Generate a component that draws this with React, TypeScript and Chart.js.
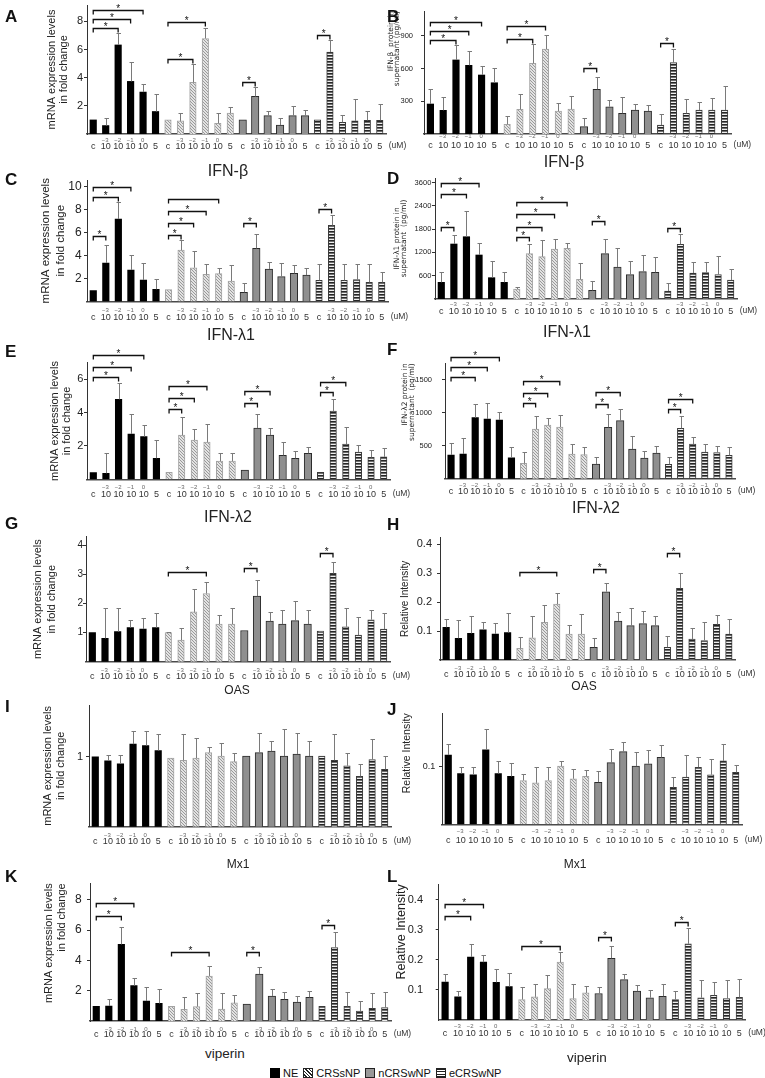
import React, { useEffect, useRef } from 'react';
import { Chart, registerables } from 'chart.js';

Chart.register(...registerables);

const SANS = "'Liberation Sans', Arial, Helvetica, sans-serif";
const WIDE = "'DejaVu Sans', 'Liberation Sans', sans-serif";

// ---------- categories and tick labels ----------
const GROUPS = ['NE', 'CRSsNP', 'nCRSwNP', 'eCRSwNP'];
const DOSES = ['c', '10^-3', '10^-2', '10^-1', '10^0', '5'];
const DOSE_MAIN = ['c', '10', '10', '10', '10', '5'];
const DOSE_EXP = ['', '−3', '−2', '−1', '0', ''];
const DOSE_UNIT = '(uM)';
const CATEGORIES = GROUPS.flatMap((g) => DOSES.map((d) => `${g} ${d}`));
const D_TICKS = ['600', '1200', '1800', '2400', '3600'];

const MRNA_TITLE = ['mRNA expression levels', 'in fold change'];
const RI_TITLE = ['Relative Intensity'];
const B_TITLE = ['IFN-β  protein in', 'supernatant (pg/ml)'];
const D_TITLE = ['IFN-λ1 protein in', 'supernatant  (pg/ml)'];
const F_TITLE = ['IFN-λ2 protein in', 'supernatant  (pg/ml)'];

// ---------- values (mean, mean+SD) ; 6 per group: NE, CRSsNP, nCRSwNP, eCRSwNP ----------
const A_MEAN = [1.0, 0.6, 6.33, 3.74, 2.98, 1.6, 1.0, 0.93, 3.67, 6.79, 0.76, 1.48, 1.0, 2.67, 1.31, 0.64, 1.31, 1.31, 1.0, 5.83, 0.83, 0.93, 0.97, 0.97];
const A_ERR = [null, 1.12, 7.2, 5.1, 3.57, 2.84, null, 1.48, 4.98, 7.55, 1.48, 1.9, null, 3.33, 1.67, 1.12, 2.0, 1.71, null, 6.67, 1.36, 2.48, 1.67, 2.14];
const A_SIG = [[0, 2, 7.57, 1], [0, 3, 8.21, 1], [0, 4, 8.79, 1], [6, 8, 5.36, 1], [6, 9, 7.98, 1], [12, 13, 3.69, 1], [18, 19, 7.07, 1]];

const B_MEAN = [275, 217, 679, 630, 541, 470, 89, 226, 648, 779, 211, 229, 67, 410, 250, 190, 220, 211, 82, 654, 190, 220, 220, 220];
const B_ERR = [410, 336, 813, 764, 626, 602, 168, 367, 823, 911, 287, 346, 144, 520, 312, 342, 275, 263, 183, 779, 321, 296, 327, 440];
const B_SIG = [[0, 2, 862, 1], [0, 3, 944, 1], [0, 4, 1024, 1], [6, 8, 871, 1], [6, 9, 990, 1], [12, 13, 608, 1], [18, 19, 837, 1]];

const C_MEAN = [0.95, 3.35, 7.17, 2.74, 1.87, 1.06, 1.03, 4.48, 2.94, 2.36, 2.42, 1.78, 0.8, 4.62, 2.83, 2.16, 2.45, 2.3, 1.84, 6.62, 1.84, 1.9, 1.67, 1.67];
const C_ERR = [null, 4.88, 8.62, 4.04, 3.38, 1.96, null, 5.35, 4.39, 3.23, 2.88, 3.17, 1.58, 5.84, 3.46, 3.32, 3.17, 2.94, 3.23, 7.52, 3.23, 3.26, 3.23, 2.6];
const C_SIG = [[0, 1, 5.7, 1], [0, 2, 9.12, 1], [0, 3, 9.93, 1], [6, 7, 5.78, 1], [6, 8, 6.8, 1], [6, 9, 7.87, 1], [6, 10, 8.88, 0], [12, 13, 6.86, 1], [18, 19, 8.04, 1]];

const D_MEAN = [429, 1416, 1604, 1133, 549, 429, 257, 1167, 1090, 1287, 1304, 506, 223, 1167, 824, 626, 704, 686, 206, 1407, 669, 678, 626, 489];
const D_ERR = [686, 1647, 2265, 1433, 987, 704, 309, 1424, 1510, 1544, 1433, 918, 463, 1536, 1321, 987, 1133, 1073, 403, 1665, 944, 961, 1107, 764];
const D_SIG = [[0, 1, 1845, 1], [0, 2, 2694, 1], [0, 3, 2977, 1], [6, 7, 1587, 1], [6, 8, 1862, 1], [6, 9, 2188, 1], [6, 10, 2488, 1], [12, 13, 2008, 1], [18, 19, 1836, 1]];

const E_MEAN = [0.4, 0.36, 4.8, 2.72, 2.56, 1.26, 0.42, 2.66, 2.36, 2.24, 1.1, 1.1, 0.56, 3.08, 2.66, 1.44, 1.26, 1.56, 0.42, 4.1, 2.12, 1.64, 1.32, 1.35];
const E_ERR = [null, 1.6, 5.76, 3.92, 3.28, 2.36, null, 3.76, 3.02, 3.32, 1.56, 1.6, null, 3.9, 3.1, 2.22, 1.7, 1.96, null, 4.8, 3.16, 2.06, 1.76, 1.86];
const E_SIG = [[0, 2, 6.12, 1], [0, 3, 6.76, 1], [0, 4, 7.46, 1], [6, 7, 4.2, 1], [6, 8, 4.86, 1], [6, 9, 5.6, 1], [12, 13, 4.56, 1], [12, 14, 5.3, 1], [18, 19, 5.26, 1], [18, 20, 5.86, 1]];

const F_MEAN = [359, 374, 924, 904, 889, 318, 232, 752, 813, 783, 374, 364, 222, 778, 879, 449, 313, 389, 217, 763, 525, 404, 394, 354];
const F_ERR = [535, 611, 1126, 1141, 1015, 475, 409, 949, 914, 965, 525, 485, 323, 975, 1050, 646, 419, 495, 323, 949, 636, 520, 495, 475];
const F_SIG = [[0, 2, 1535, 1], [0, 3, 1687, 1], [0, 4, 1848, 1], [6, 7, 1141, 1], [6, 8, 1303, 1], [6, 9, 1480, 1], [12, 13, 1131, 1], [12, 14, 1318, 1], [18, 19, 1050, 1], [18, 20, 1202, 1]];

const G_MEAN = [1.0, 0.8, 1.03, 1.17, 1.12, 1.17, 1.0, 0.74, 1.71, 2.34, 1.29, 1.29, 1.07, 2.25, 1.39, 1.29, 1.41, 1.29, 1.05, 3.03, 1.2, 0.91, 1.44, 1.12];
const G_ERR = [null, 1.85, 1.83, 1.43, 1.51, 1.66, 1.03, 1.14, 2.51, 2.74, 1.6, 1.83, null, 2.82, 1.69, 1.79, 2.09, 1.79, 1.07, 3.41, 1.83, 1.54, 1.77, 1.66];
const G_SIG = [[6, 9, 3.09, 1], [12, 13, 3.23, 1], [18, 19, 3.74, 1]];

const H_MEAN = [0.113, 0.075, 0.092, 0.104, 0.09, 0.095, 0.04, 0.077, 0.13, 0.193, 0.09, 0.09, 0.044, 0.236, 0.135, 0.119, 0.126, 0.119, 0.044, 0.248, 0.072, 0.067, 0.123, 0.09];
const H_ERR = [0.141, 0.138, 0.153, 0.13, 0.129, 0.161, 0.081, 0.153, 0.19, 0.231, 0.121, 0.158, 0.077, 0.268, 0.165, 0.181, 0.17, 0.152, 0.084, 0.302, 0.112, 0.13, 0.156, 0.141];
const H_SIG = [[6, 9, 0.306, 1], [12, 13, 0.315, 1], [18, 19, 0.369, 1]];

const I_MEAN = [1.0, 0.94, 0.9, 1.18, 1.16, 1.09, 0.98, 0.95, 0.98, 1.06, 1.01, 0.93, 1.01, 1.06, 1.08, 1.01, 1.04, 1.01, 1.01, 0.95, 0.87, 0.72, 0.96, 0.82];
const I_ERR = [null, 1.03, 1.03, 1.37, 1.37, 1.32, null, 1.32, 1.27, 1.14, 1.19, 1.06, null, 1.34, 1.23, 1.39, 1.34, 1.22, null, 1.33, 1.05, 0.89, 1.26, 1.01];
const I_SIG: number[][] = [];

const J_MEAN = [0.12, 0.088, 0.086, 0.129, 0.088, 0.083, 0.076, 0.072, 0.076, 0.101, 0.079, 0.083, 0.073, 0.107, 0.126, 0.101, 0.105, 0.116, 0.064, 0.082, 0.099, 0.086, 0.11, 0.09];
const J_ERR = [0.14, 0.1, 0.1, 0.166, 0.109, 0.107, 0.088, 0.099, 0.099, 0.109, 0.096, 0.095, 0.092, 0.131, 0.142, 0.125, 0.129, 0.138, 0.082, 0.12, 0.117, 0.113, 0.139, 0.103];
const J_SIG: number[][] = [];

const K_MEAN = [0.97, 0.99, 5.05, 2.33, 1.32, 1.16, 0.97, 0.77, 0.95, 2.97, 0.79, 1.19, 1.12, 3.1, 1.65, 1.43, 1.25, 1.56, 0.97, 4.84, 0.97, 0.66, 0.84, 0.88];
const K_ERR = [null, 1.43, 6.2, 2.81, 2.26, 2.11, null, 1.58, 1.82, 3.63, 1.82, 1.71, null, 3.54, 2.09, 1.93, 1.67, 1.98, null, 5.85, 1.93, 1.32, 1.87, 1.93];
const K_SIG = [[0, 2, 6.95, 1], [0, 3, 7.8, 1], [6, 9, 4.53, 1], [12, 13, 4.53, 1], [18, 19, 6.33, 1]];

const L_MEAN = [0.126, 0.077, 0.209, 0.192, 0.125, 0.111, 0.068, 0.077, 0.104, 0.192, 0.071, 0.09, 0.088, 0.205, 0.134, 0.096, 0.074, 0.079, 0.068, 0.253, 0.074, 0.082, 0.071, 0.075];
const L_ERR = [0.152, 0.097, 0.251, 0.216, 0.17, 0.157, 0.11, 0.121, 0.148, 0.227, 0.121, 0.113, 0.109, 0.245, 0.154, 0.115, 0.099, 0.119, 0.097, 0.305, 0.134, 0.126, 0.134, 0.137];
const L_SIG = [[0, 2, 0.346, 1], [0, 3, 0.385, 1], [6, 9, 0.247, 1], [12, 13, 0.275, 1], [18, 19, 0.324, 1]];

// ---------- panel layout (positions / styles only) ----------
const PANELS: any[] = [
  { letter: 'A', lx: 5, ly: 8, gene: 'IFN-β', gx: 228, gy: 171, gs: 16, mean: A_MEAN, err: A_ERR, sig: A_SIG,
    box: [0, -5, 420, 165], plot: [87, 5, 386, 134], yMax: 9.17, yStep: 2, dec: 0, tf: 11, tp: 1,
    title: MRNA_TITLE, tfam: SANS, ts: 11, tlh: 1.1, tx: 52, talign: 'center', expDy: 6.7, mainDy: 12.7 },
  { letter: 'B', lx: 387, ly: 8, gene: 'IFN-β', gx: 564, gy: 162, gs: 16, mean: B_MEAN, err: B_ERR, sig: B_SIG,
    box: [382, -5, 383, 165], plot: [424, 11, 731, 134], yMax: 1128, yStep: 300, dec: 0, tf: 7.5, tp: 8,
    title: B_TITLE, tfam: WIDE, ts: 7.5, tlh: 0.85, tx: 391, talign: 'end', expDy: 2.7, mainDy: 11.7 },
  { letter: 'C', lx: 5, ly: 171, gene: 'IFN-λ1', gx: 231, gy: 335, gs: 16, mean: C_MEAN, err: C_ERR, sig: C_SIG,
    box: [0, 168, 420, 172], plot: [87, 180, 388, 301.5], yMax: 10.57, yStep: 2, dec: 0, tf: 12, tp: 2.3,
    title: MRNA_TITLE, tfam: SANS, ts: 11.5, tlh: 1.3, tx: 45.5, talign: 'center', expDy: 9, mainDy: 16 },
  { letter: 'D', lx: 387, ly: 170, gene: 'IFN-λ1', gx: 567, gy: 332, gs: 16, mean: D_MEAN, err: D_ERR, sig: D_SIG,
    box: [382, 168, 383, 172], plot: [435, 178, 737, 299], yMax: 3116, yStep: 600, dec: 0, tickLabels: D_TICKS, tf: 7.5, tp: 0.7,
    title: D_TITLE, tfam: WIDE, ts: 7.5, tlh: 0.9, tx: 397, talign: 'center', expDy: 5.3, mainDy: 12.7 },
  { letter: 'E', lx: 5, ly: 343, gene: 'IFN-λ2', gx: 228, gy: 517, gs: 16, mean: E_MEAN, err: E_ERR, sig: E_SIG,
    box: [0, 340, 420, 170], plot: [87, 362.7, 390, 479.3], yMax: 7.0, yStep: 2, dec: 0, tf: 11, tp: 0.7,
    title: MRNA_TITLE, tfam: SANS, ts: 11, tlh: 1.1, tx: 55, talign: 'center', expDy: 8.3, mainDy: 15.7 },
  { letter: 'F', lx: 387, ly: 341, gene: 'IFN-λ2', gx: 596, gy: 508, gs: 16, mean: F_MEAN, err: F_ERR, sig: F_SIG,
    box: [382, 340, 383, 170], plot: [445, 363.3, 735, 478.7], yMax: 1748, yStep: 500, dec: 0, tf: 7.5, tp: 10,
    title: F_TITLE, tfam: WIDE, ts: 7.5, tlh: 0.9, tx: 405, talign: 'end', expDy: 6.3, mainDy: 13 },
  { letter: 'G', lx: 5, ly: 514.5, gene: 'OAS', gx: 237, gy: 690, gs: 12, mean: G_MEAN, err: G_ERR, sig: G_SIG,
    box: [0, 520, 420, 165], plot: [86, 536.7, 390, 661.7], yMax: 4.29, yStep: 1, dec: 0, tf: 10, tp: 0,
    title: MRNA_TITLE, tfam: SANS, ts: 11, tlh: 1.25, tx: 38, talign: 'center', expDy: 9, mainDy: 15 },
  { letter: 'H', lx: 387, ly: 516, gene: 'OAS', gx: 584, gy: 686, gs: 12, mean: H_MEAN, err: H_ERR, sig: H_SIG,
    box: [382, 520, 383, 165], plot: [440, 537.7, 735, 660], yMax: 0.423, yStep: 0.1, dec: 1, tf: 11, tp: 5,
    title: RI_TITLE, tfam: SANS, ts: 10, tlh: 1.2, tx: 405, talign: 'center', expDy: 8.3, mainDy: 15 },
  { letter: 'I', lx: 5, ly: 698, gene: 'Mx1', gx: 238, gy: 864, gs: 12, mean: I_MEAN, err: I_ERR, sig: I_SIG,
    box: [0, 695, 420, 165], plot: [89, 705, 391, 826.7], yMax: 1.74, yStep: 1, dec: 0, tf: 11, tp: 3,
    title: MRNA_TITLE, tfam: SANS, ts: 11, tlh: 1.2, tx: 48, talign: 'center', expDy: 9, mainDy: 15 },
  { letter: 'J', lx: 387, ly: 701, gene: 'Mx1', gx: 575, gy: 864, gs: 12, mean: J_MEAN, err: J_ERR, sig: J_SIG,
    box: [382, 695, 383, 165], plot: [442, 713.3, 742, 824.3], yMax: 0.1925, yStep: 0.1, dec: 1, tf: 9, tp: 3.7,
    title: RI_TITLE, tfam: SANS, ts: 10.5, tlh: 1.2, tx: 407, talign: 'end', expDy: 7.4, mainDy: 16.7 },
  { letter: 'K', lx: 5, ly: 868, gene: 'viperin', gx: 225, gy: 1054, gs: 13.5, mean: K_MEAN, err: K_ERR, sig: K_SIG,
    box: [0, 865, 420, 180], plot: [90, 883.3, 391, 1021], yMax: 9.08, yStep: 2, dec: 0, tf: 12, tp: 5.3,
    title: MRNA_TITLE, tfam: SANS, ts: 11, tlh: 1.2, tx: 49, talign: 'end', expDy: 8.3, mainDy: 14 },
  { letter: 'L', lx: 387, ly: 868, gene: 'viperin', gx: 587, gy: 1058, gs: 13.5, mean: L_MEAN, err: L_ERR, sig: L_SIG,
    box: [382, 865, 383, 180], plot: [438.7, 883.3, 745.7, 1020], yMax: 0.4507, yStep: 0.1, dec: 1, tf: 11, tp: 12.7,
    title: RI_TITLE, tfam: SANS, ts: 12.5, tlh: 1.2, tx: 402, talign: 'end', expDy: 6.7, mainDy: 13.3 },
];

function makeFills(ctx: CanvasRenderingContext2D) {
  const hatch = document.createElement('canvas');
  hatch.width = 3;
  hatch.height = 3;
  const h = hatch.getContext('2d')!;
  h.fillStyle = '#e3e3e3';
  h.fillRect(0, 0, 3, 3);
  h.fillStyle = '#999999';
  for (let k = 0; k < 3; k++) h.fillRect(k, k, 1, 1);
  const stripe = document.createElement('canvas');
  stripe.width = 2;
  stripe.height = 3;
  const s = stripe.getContext('2d')!;
  s.fillStyle = '#efefef';
  s.fillRect(0, 0, 2, 3);
  s.fillStyle = '#262626';
  s.fillRect(0, 0, 2, 1);
  s.fillStyle = '#6e6e6e';
  s.fillRect(0, 1, 2, 1);
  return {
    bg: ['#000000', ctx.createPattern(hatch, 'repeat'), '#8f8f8f', ctx.createPattern(stripe, 'repeat')],
    border: ['#000000', '#a3a3a3', '#2b2b2b', '#3a3a3a'],
    bw: [0, 1, 1, 1],
    thick: [6.5, 6.5, 7.5, 6.5],
  };
}

function BarPanel({ spec }: { spec: any }) {
  const ref = useRef<HTMLCanvasElement | null>(null);
  const [bx, by, bw, bh] = spec.box;

  useEffect(() => {
    const canvas = ref.current;
    if (!canvas) return;
    const [pl, pt, pr, pb] = spec.plot;
    const yAxisW = pl - bx;
    const xAxisH = by + bh - pb;
    const padTop = pt - by;
    const padRight = bx + bw - pr;
    const titlePad = spec.tx - bx - (spec.ts * spec.tlh) / 2;
    const fills = makeFills(canvas.getContext('2d')!);

    const datasets = GROUPS.map((g, gi) => ({
      label: g,
      data: spec.mean.map((v: number, i: number) => (Math.floor(i / 6) === gi ? v : null)),
      backgroundColor: fills.bg[gi],
      borderColor: fills.border[gi],
      borderWidth: fills.bw[gi],
      barThickness: fills.thick[gi],
      grouped: false,
    }));

    const extras = {
      id: 'extras',
      afterDraw(chart: any) {
        const ctx = chart.ctx;
        const xs = chart.scales.x;
        const ys = chart.scales.y;
        ctx.save();
        // error bars
        ctx.strokeStyle = '#7a7a7a';
        ctx.lineWidth = 1;
        spec.err.forEach((e: number | null, i: number) => {
          if (e == null) return;
          const x = Math.round(xs.getPixelForValue(i)) + 0.5;
          const y0 = ys.getPixelForValue(spec.mean[i]);
          const y1 = Math.round(ys.getPixelForValue(e)) + 0.5;
          ctx.beginPath();
          ctx.moveTo(x, y0);
          ctx.lineTo(x, y1);
          ctx.moveTo(x - 2, y1);
          ctx.lineTo(x + 2.5, y1);
          ctx.stroke();
        });
        // significance brackets
        ctx.strokeStyle = '#111';
        ctx.fillStyle = '#111';
        ctx.lineWidth = 1.3;
        ctx.textAlign = 'center';
        ctx.textBaseline = 'alphabetic';
        ctx.font = `10px ${SANS}`;
        spec.sig.forEach((s: number[]) => {
          const x1 = xs.getPixelForValue(s[0]);
          const x2 = xs.getPixelForValue(s[1]);
          const y = Math.round(ys.getPixelForValue(s[2])) + 0.5;
          ctx.beginPath();
          ctx.moveTo(x1, y + 4);
          ctx.lineTo(x1, y);
          ctx.lineTo(x2, y);
          ctx.lineTo(x2, y + 4);
          ctx.stroke();
          if (s[3]) ctx.fillText('*', (x1 + x2) / 2, y + 1.5);
        });
        // x labels
        const base = chart.chartArea.bottom;
        ctx.textBaseline = 'middle';
        CATEGORIES.forEach((_, i) => {
          const x = xs.getPixelForValue(i);
          const d = i % 6;
          ctx.fillStyle = '#333';
          ctx.font = `9px ${SANS}`;
          ctx.fillText(DOSE_MAIN[d], x, base + spec.mainDy);
          if (DOSE_EXP[d]) {
            ctx.fillStyle = '#666';
            ctx.font = `6px ${SANS}`;
            ctx.fillText(DOSE_EXP[d], x - 0.5, base + spec.expDy);
          }
        });
        const lastX = xs.getPixelForValue(CATEGORIES.length - 1);
        ctx.fillStyle = '#333';
        ctx.font = `8.5px ${SANS}`;
        ctx.textAlign = 'left';
        ctx.fillText(DOSE_UNIT, lastX + 9, base + spec.mainDy - 1);
        ctx.restore();
      },
    };

    const chart = new Chart(canvas, {
      type: 'bar',
      data: { labels: CATEGORIES, datasets },
      options: {
        animation: false,
        responsive: false,
        events: [],
        layout: { padding: { top: padTop, right: padRight, bottom: 0, left: 0 } },
        plugins: { legend: { display: false }, tooltip: { enabled: false } },
        scales: {
          x: {
            type: 'category',
            offset: true,
            ticks: { display: false },
            grid: { display: false },
            border: { display: true, color: '#4a4a4a', width: 1.5 },
            afterFit: (sc: any) => {
              sc.height = xAxisH;
            },
          },
          y: {
            type: 'linear',
            min: 0,
            max: spec.yMax,
            afterBuildTicks: (sc: any) => {
              const t: any[] = [];
              for (let k = 1; k * spec.yStep <= spec.yMax + 1e-9; k++) t.push({ value: k * spec.yStep });
              sc.ticks = t;
            },
            ticks: {
              color: '#222',
              padding: spec.tp,
              font: { family: SANS, size: spec.tf },
              callback: (v: any) => {
                const n = Number(v);
                if (n <= 1e-9) return '';
                if (spec.tickLabels) {
                  const k = Math.round(n / spec.yStep) - 1;
                  return spec.tickLabels[k] ?? '';
                }
                return spec.dec ? n.toFixed(spec.dec) : String(Math.round(n));
              },
            },
            grid: { display: true, drawOnChartArea: false, drawTicks: true, tickLength: 3, color: '#333' },
            border: { display: true, color: '#333', width: 1 },
            title: {
              display: true,
              text: spec.title,
              color: '#222',
              align: spec.talign,
              padding: { top: titlePad, bottom: 0 },
              font: { family: spec.tfam, size: spec.ts, lineHeight: spec.tlh },
            },
            afterFit: (sc: any) => {
              sc.width = yAxisW;
            },
          },
        },
      } as any,
      plugins: [extras as any],
    });
    return () => chart.destroy();
  }, [spec]);

  return (
    <canvas
      ref={ref}
      width={bw}
      height={bh}
      style={{ position: 'absolute', left: bx, top: by, width: bw, height: bh }}
    />
  );
}

const LEGEND_SWATCH: React.CSSProperties[] = [
  { background: '#000', border: '1px solid #000' },
  { border: '1px solid #222', background: 'repeating-linear-gradient(45deg, #fff 0px, #fff 1.4px, #222 1.4px, #222 2.4px)' },
  { border: '1px solid #222', background: '#999' },
  { border: '1px solid #222', background: 'repeating-linear-gradient(180deg, #222 0px, #222 1px, #fff 1px, #fff 2.4px)' },
];

export default function App() {
  return (
    <div style={{ position: 'absolute', left: 0, top: 0, width: 765, height: 1078, overflow: 'hidden', background: '#fff', fontFamily: SANS, color: '#111' }}>
      {PANELS.map((p) => (
        <BarPanel key={p.letter} spec={p} />
      ))}
      {PANELS.map((p) => (
        <div key={`L${p.letter}`} style={{ position: 'absolute', left: p.lx, top: p.ly, fontSize: 17, fontWeight: 'bold', lineHeight: 1 }}>
          {p.letter}
        </div>
      ))}
      {PANELS.map((p) => (
        <div
          key={`G${p.letter}`}
          style={{ position: 'absolute', left: p.gx, top: p.gy, transform: 'translate(-50%, -50%)', fontSize: p.gs, lineHeight: 1, whiteSpace: 'nowrap', color: '#222' }}
        >
          {p.gene}
        </div>
      ))}
      <div style={{ position: 'absolute', left: 270, top: 1067, display: 'flex', alignItems: 'center', fontSize: 11, lineHeight: '12px', whiteSpace: 'nowrap' }}>
        {GROUPS.map((g, i) => (
          <div key={g} style={{ display: 'flex', alignItems: 'center', marginRight: 5 }}>
            <div style={{ width: 10, height: 10, boxSizing: 'border-box', marginRight: 3, ...LEGEND_SWATCH[i] }} />
            <span>{g}</span>
          </div>
        ))}
      </div>
    </div>
  );
}
